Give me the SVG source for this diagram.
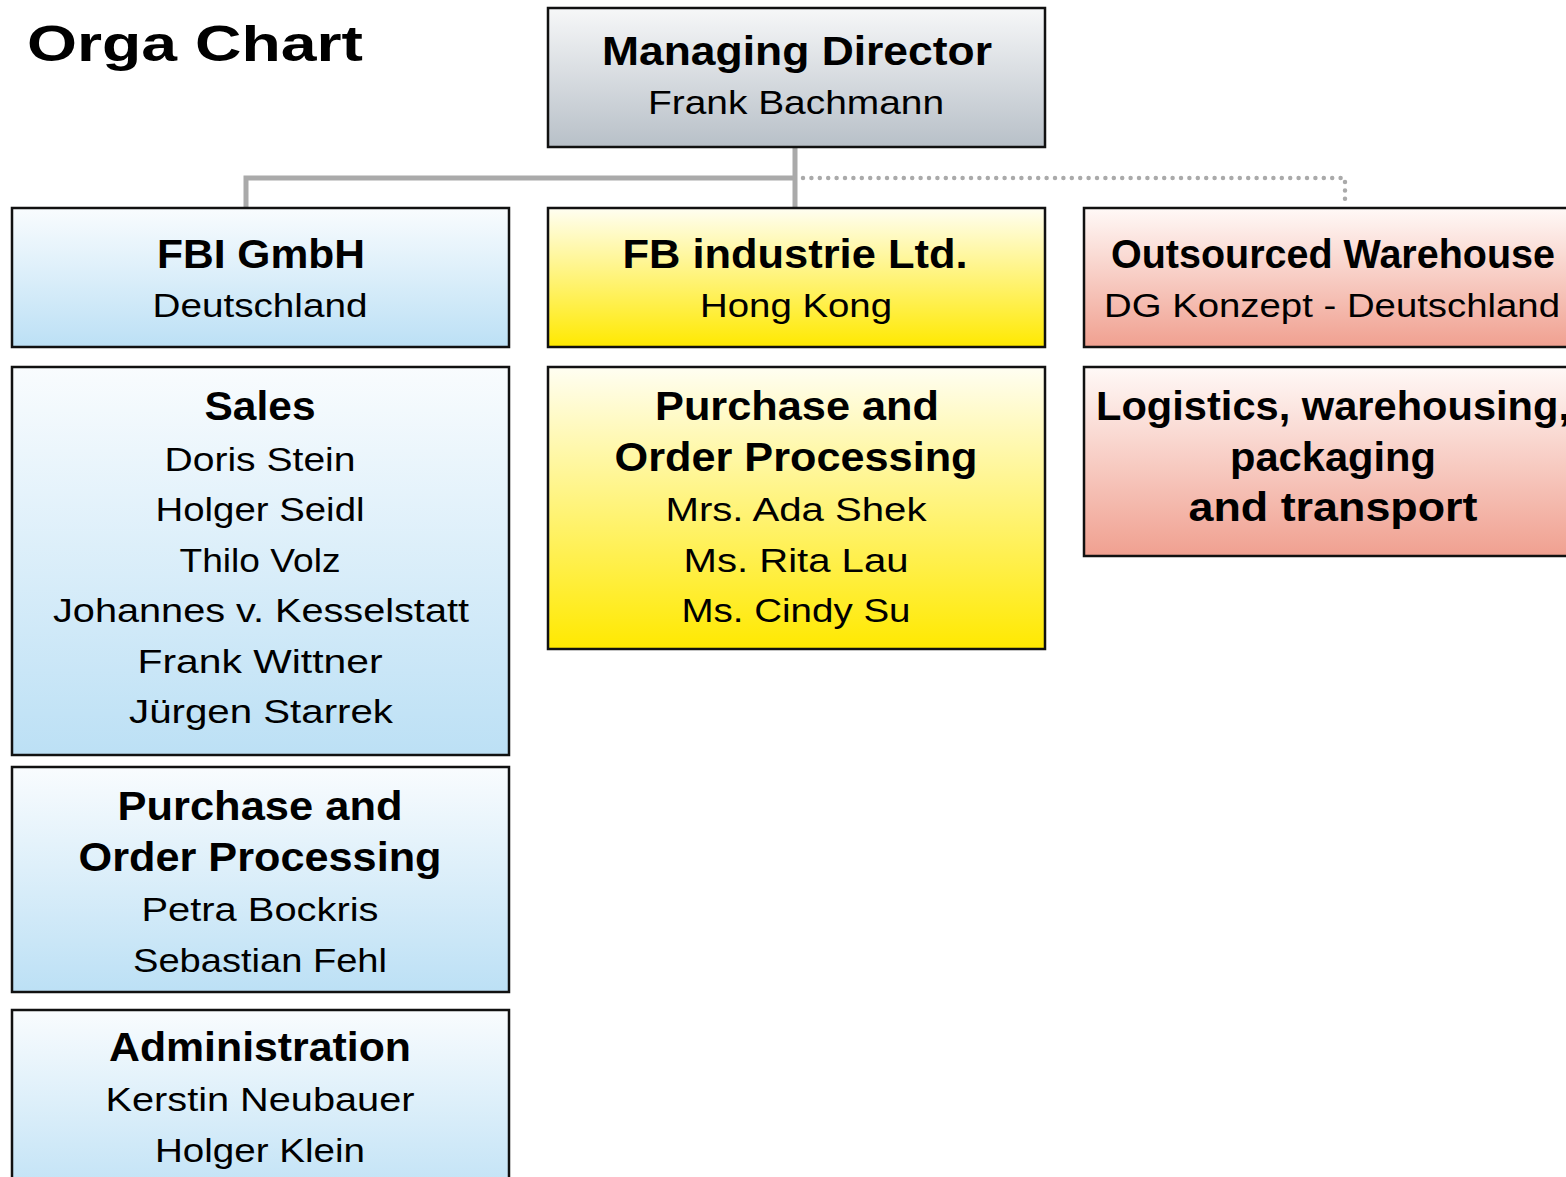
<svg xmlns="http://www.w3.org/2000/svg" width="1566" height="1177" viewBox="0 0 1566 1177">
<defs>
<linearGradient id="gGray" x1="0" y1="0" x2="0" y2="1"><stop offset="0" stop-color="#f6f7f8"/><stop offset="1" stop-color="#b8c0c8"/></linearGradient>
<linearGradient id="gBlue" x1="0" y1="0" x2="0" y2="1"><stop offset="0" stop-color="#f9fcfe"/><stop offset="1" stop-color="#bce0f5"/></linearGradient>
<linearGradient id="gYellow" x1="0" y1="0" x2="0" y2="1"><stop offset="0" stop-color="#fffef2"/><stop offset="1" stop-color="#ffe900"/></linearGradient>
<linearGradient id="gRed" x1="0" y1="0" x2="0" y2="1"><stop offset="0" stop-color="#fff9f7"/><stop offset="1" stop-color="#f0a090"/></linearGradient>
</defs>
<style>
.box{stroke:#111;stroke-width:2.5}
text{font-family:"Liberation Sans",Arial,sans-serif;fill:#000;text-anchor:middle}
.h{font-weight:bold;font-size:40px}
.n{font-size:34px}
.title{font-weight:bold;font-size:50px;text-anchor:start}
.con{fill:none;stroke:#aaaaaa;stroke-width:5}
.dot{fill:none;stroke:#aaaaaa;stroke-width:4.5;stroke-linecap:round;stroke-dasharray:0 8.4}
</style>
<rect width="1566" height="1177" fill="#fff"/>
<text class="title" x="27" y="61" textLength="336" lengthAdjust="spacingAndGlyphs">Orga Chart</text>
<g id="connectors">
<path class="con" d="M795 148 V207 M795 178 H246 V207"/>
<path class="dot" d="M803 178 H1345 V203"/>
</g>
<g id="md">
<rect class="box" x="548" y="8" width="497" height="139" fill="url(#gGray)"/>
<text class="h" x="797" y="65" textLength="390" lengthAdjust="spacingAndGlyphs">Managing Director</text>
<text class="n" x="796" y="114" textLength="296" lengthAdjust="spacingAndGlyphs">Frank Bachmann</text>
</g>
<g id="fbi">
<rect class="box" x="12" y="208" width="497" height="139" fill="url(#gBlue)"/>
<text class="h" x="261" y="268" textLength="208" lengthAdjust="spacingAndGlyphs">FBI GmbH</text>
<text class="n" x="260" y="317" textLength="215" lengthAdjust="spacingAndGlyphs">Deutschland</text>
</g>
<g id="fbhk">
<rect class="box" x="548" y="208" width="497" height="139" fill="url(#gYellow)"/>
<text class="h" x="795" y="268" textLength="345" lengthAdjust="spacingAndGlyphs">FB industrie Ltd.</text>
<text class="n" x="796" y="317" textLength="192" lengthAdjust="spacingAndGlyphs">Hong Kong</text>
</g>
<g id="outsourced">
<rect class="box" x="1084" y="208" width="500" height="139" fill="url(#gRed)"/>
<text class="h" x="1333" y="268" textLength="444" lengthAdjust="spacingAndGlyphs">Outsourced Warehouse</text>
<text class="n" x="1332" y="317" textLength="456" lengthAdjust="spacingAndGlyphs">DG Konzept - Deutschland</text>
</g>
<g id="sales">
<rect class="box" x="12" y="367" width="497" height="388" fill="url(#gBlue)"/>
<text class="h" x="260" y="420" textLength="111" lengthAdjust="spacingAndGlyphs">Sales</text>
<text class="n" x="260" y="471" textLength="191" lengthAdjust="spacingAndGlyphs">Doris Stein</text>
<text class="n" x="260" y="521" textLength="209" lengthAdjust="spacingAndGlyphs">Holger Seidl</text>
<text class="n" x="260" y="572" textLength="161" lengthAdjust="spacingAndGlyphs">Thilo Volz</text>
<text class="n" x="261" y="622" textLength="416" lengthAdjust="spacingAndGlyphs">Johannes v. Kesselstatt</text>
<text class="n" x="260" y="673" textLength="245" lengthAdjust="spacingAndGlyphs">Frank Wittner</text>
<text class="n" x="261" y="723" textLength="264" lengthAdjust="spacingAndGlyphs">Jürgen Starrek</text>
</g>
<g id="purchase-de">
<rect class="box" x="12" y="767" width="497" height="225" fill="url(#gBlue)"/>
<text class="h" x="260" y="820" textLength="285" lengthAdjust="spacingAndGlyphs">Purchase and</text>
<text class="h" x="260" y="871" textLength="363" lengthAdjust="spacingAndGlyphs">Order Processing</text>
<text class="n" x="260" y="921" textLength="237" lengthAdjust="spacingAndGlyphs">Petra Bockris</text>
<text class="n" x="260" y="972" textLength="254" lengthAdjust="spacingAndGlyphs">Sebastian Fehl</text>
</g>
<g id="admin">
<rect class="box" x="12" y="1010" width="497" height="200" fill="url(#gBlue)"/>
<text class="h" x="260" y="1061" textLength="302" lengthAdjust="spacingAndGlyphs">Administration</text>
<text class="n" x="260" y="1111" textLength="309" lengthAdjust="spacingAndGlyphs">Kerstin Neubauer</text>
<text class="n" x="260" y="1162" textLength="210" lengthAdjust="spacingAndGlyphs">Holger Klein</text>
</g>
<g id="purchase-hk">
<rect class="box" x="548" y="367" width="497" height="282" fill="url(#gYellow)"/>
<text class="h" x="797" y="420" textLength="284" lengthAdjust="spacingAndGlyphs">Purchase and</text>
<text class="h" x="796" y="471" textLength="363" lengthAdjust="spacingAndGlyphs">Order Processing</text>
<text class="n" x="796" y="521" textLength="261" lengthAdjust="spacingAndGlyphs">Mrs. Ada Shek</text>
<text class="n" x="796" y="572" textLength="225" lengthAdjust="spacingAndGlyphs">Ms. Rita Lau</text>
<text class="n" x="796" y="622" textLength="229" lengthAdjust="spacingAndGlyphs">Ms. Cindy Su</text>
</g>
<g id="logistics">
<rect class="box" x="1084" y="367" width="500" height="189" fill="url(#gRed)"/>
<text class="h" x="1333" y="420" textLength="474" lengthAdjust="spacingAndGlyphs">Logistics, warehousing,</text>
<text class="h" x="1333" y="471" textLength="206" lengthAdjust="spacingAndGlyphs">packaging</text>
<text class="h" x="1333" y="521" textLength="289" lengthAdjust="spacingAndGlyphs">and transport</text>
</g>
</svg>
